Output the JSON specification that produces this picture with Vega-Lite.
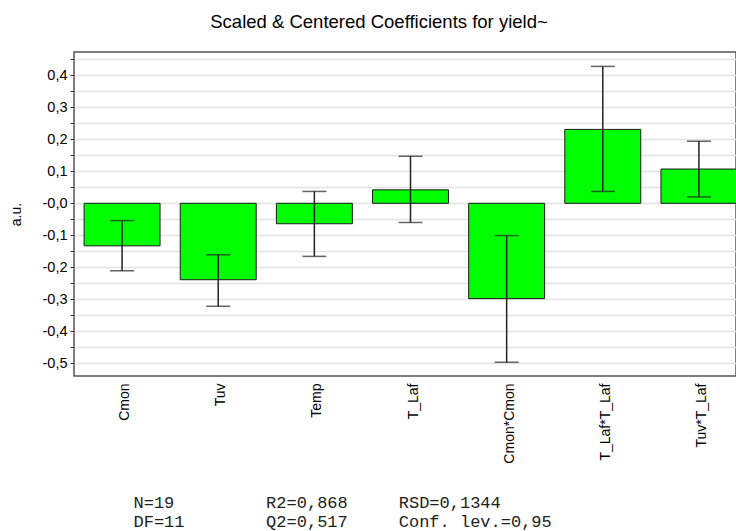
{
  "$schema": "https://vega.github.io/schema/vega-lite/v6.json",
  "autosize": {"type": "none"},
  "padding": {"left": 74, "top": 52, "right": 0, "bottom": 155},
  "width": 662,
  "height": 324,
  "background": "white",
  "config": {
    "font": "Liberation Sans",
    "view": {"stroke": "#555555", "strokeWidth": 1.5},
    "axis": {"labelColor": "#000000", "titleColor": "#000000", "titleFontWeight": "normal"},
    "axisY": {
      "titleFontSize": 14,
      "titlePadding": 19,
      "labelFontSize": 14.5,
      "labelPadding": 3,
      "labelOverlap": false,
      "tickSize": 4,
      "tickColor": "#333333",
      "domain": false,
      "grid": true,
      "gridColor": "#e2e2e2",
      "gridWidth": 1.5
    }
  },
  "title": {
    "text": "Scaled & Centered Coefficients for yield~",
    "fontSize": 18.5,
    "fontWeight": "normal",
    "font": "Liberation Sans",
    "color": "#000000",
    "anchor": "middle",
    "dx": -26,
    "offset": 20
  },
  "data": {
    "values": [
      {"term": "Cmon", "coef": -0.133, "lo": -0.211, "hi": -0.054},
      {"term": "Tuv", "coef": -0.239, "lo": -0.322, "hi": -0.161},
      {"term": "Temp", "coef": -0.064, "lo": -0.166, "hi": 0.037},
      {"term": "T_Laf", "coef": 0.042, "lo": -0.060, "hi": 0.147},
      {"term": "Cmon*Cmon", "coef": -0.298, "lo": -0.497, "hi": -0.101},
      {"term": "T_Laf*T_Laf", "coef": 0.231, "lo": 0.037, "hi": 0.428},
      {"term": "Tuv*T_Laf", "coef": 0.107, "lo": 0.020, "hi": 0.194}
    ]
  },
  "encoding": {
    "x": {
      "field": "term",
      "type": "nominal",
      "sort": null,
      "scale": {"range": [0, 673], "paddingInner": 0.21, "paddingOuter": 0.105},
      "axis": {
        "title": ["N=19\u00a0\u00a0\u00a0\u00a0\u00a0\u00a0\u00a0\u00a0\u00a0R2=0,868\u00a0\u00a0\u00a0\u00a0\u00a0RSD=0,1344", "DF=11\u00a0\u00a0\u00a0\u00a0\u00a0\u00a0\u00a0\u00a0Q2=0,517\u00a0\u00a0\u00a0\u00a0\u00a0Conf.\u00a0lev.=0,95"],
        "titleFont": "Liberation Mono",
        "titleFontSize": 17,
        "titleColor": "#222222",
        "titleAlign": "left",
        "titleAngle": 0,
        "titleBaseline": "alphabetic",
        "titleX": 59,
        "titleY": 131,
        "titleLineHeight": 19.5,
        "labelAngle": -90,
        "labelFontSize": 14,
        "labelPadding": 7,
        "labelOffset": 3,
        "ticks": false,
        "domain": false,
        "grid": false
      }
    }
  },
  "layer": [
    {
      "mark": {"type": "rule", "color": "#808080", "strokeWidth": 1.5},
      "encoding": {
        "y": {
          "datum": 0,
          "type": "quantitative",
          "scale": {"domain": [-0.54, 0.473], "nice": false, "zero": false},
          "title": "a.u.",
          "axis": {
            "values": [-0.5, -0.45, -0.4, -0.35, -0.3, -0.25, -0.2, -0.15, -0.1, -0.05, 0, 0.05, 0.1, 0.15, 0.2, 0.25, 0.3, 0.35, 0.4, 0.45],
            "labelExpr": "abs(datum.value) < 0.001 ? '-0,0' : (abs(round(datum.value * 100)) % 10 != 0 ? '' : (datum.value < 0 ? '-' : '') + replace(format(abs(datum.value), '.1f'), '.', ','))"
          }
        }
      }
    },
    {
      "mark": {"type": "bar", "color": "#00ff00", "stroke": "#1a1a1a", "strokeWidth": 1, "clip": true},
      "encoding": {
        "y": {
          "field": "coef",
          "type": "quantitative",
          "title": "a.u.",
          "axis": {
            "values": [-0.5, -0.45, -0.4, -0.35, -0.3, -0.25, -0.2, -0.15, -0.1, -0.05, 0, 0.05, 0.1, 0.15, 0.2, 0.25, 0.3, 0.35, 0.4, 0.45],
            "labelExpr": "abs(datum.value) < 0.001 ? '-0,0' : (abs(round(datum.value * 100)) % 10 != 0 ? '' : (datum.value < 0 ? '-' : '') + replace(format(abs(datum.value), '.1f'), '.', ','))"
          }
        },
        "y2": {"datum": 0}
      }
    },
    {
      "mark": {"type": "errorbar", "color": "#222222", "thickness": 1.5, "ticks": {"size": 24, "color": "#222222"}},
      "encoding": {
        "y": {
          "field": "lo",
          "type": "quantitative",
          "title": "a.u.",
          "axis": {
            "values": [-0.5, -0.45, -0.4, -0.35, -0.3, -0.25, -0.2, -0.15, -0.1, -0.05, 0, 0.05, 0.1, 0.15, 0.2, 0.25, 0.3, 0.35, 0.4, 0.45],
            "labelExpr": "abs(datum.value) < 0.001 ? '-0,0' : (abs(round(datum.value * 100)) % 10 != 0 ? '' : (datum.value < 0 ? '-' : '') + replace(format(abs(datum.value), '.1f'), '.', ','))"
          }
        },
        "y2": {"field": "hi"}
      }
    }
  ]
}
